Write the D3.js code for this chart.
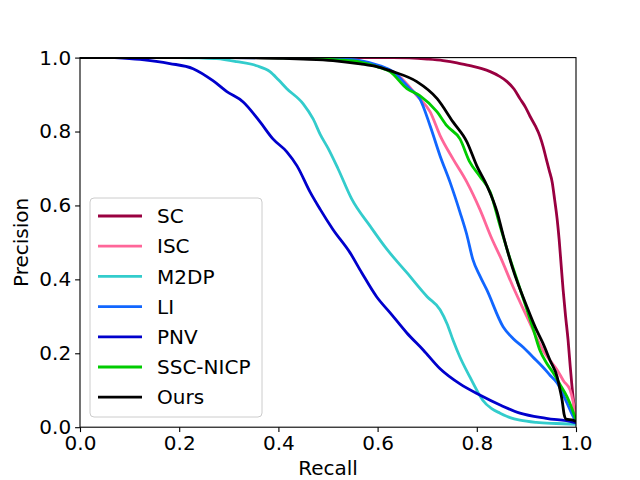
<!DOCTYPE html>
<html>
<head>
<meta charset="utf-8">
<script src="https://cdn.jsdelivr.net/npm/d3@7"></script>
<style>
  body { margin: 0; background: #fff; }
  text { font-family: "DejaVu Sans", sans-serif; }
</style>
</head>
<body>
<div id="chart"></div>
<script>
// series names and colours (legend order)
const names = ["SC", "ISC", "M2DP", "LI", "PNV", "SSC-NICP", "Ours"];
const colors = ["#990040", "#ff6699", "#33cccc", "#1166ff", "#0000cc", "#00cc00", "#000000"];

// recall / precision
const sc_recall = [0, 0.3, 0.5, 0.631, 0.70, 0.732, 0.76, 0.786, 0.81, 0.827, 0.845, 0.861, 0.875, 0.887, 0.898, 0.907, 0.918, 0.927, 0.934, 0.94, 0.946, 0.952, 0.957, 0.962, 0.966, 0.970, 0.974, 0.979, 0.984, 0.988, 0.992, 0.996, 1.0];
const sc_precision = [1, 1, 1, 1.0, 0.996, 0.992, 0.986, 0.978, 0.970, 0.962, 0.95, 0.935, 0.915, 0.889, 0.866, 0.842, 0.815, 0.788, 0.758, 0.726, 0.695, 0.663, 0.615, 0.563, 0.508, 0.44, 0.372, 0.30, 0.236, 0.17, 0.109, 0.06, 0.02];

const isc_recall = [0, 0.3, 0.45, 0.52, 0.565, 0.605, 0.631, 0.655, 0.679, 0.706, 0.726, 0.752, 0.78, 0.806, 0.831, 0.847, 0.873, 0.901, 0.918, 0.933, 0.948, 0.962, 0.975, 0.988, 0.994, 1.0];
const isc_precision = [1, 1, 0.998, 0.994, 0.988, 0.975, 0.962, 0.935, 0.897, 0.853, 0.789, 0.726, 0.663, 0.590, 0.508, 0.462, 0.380, 0.299, 0.25, 0.209, 0.18, 0.155, 0.125, 0.101, 0.07, 0.02];

const m2dp_recall = [0.2, 0.24, 0.276, 0.316, 0.356, 0.383, 0.40, 0.417, 0.45, 0.47, 0.484, 0.50, 0.52, 0.548, 0.585, 0.619, 0.659, 0.70, 0.726, 0.74, 0.752, 0.766, 0.786, 0.80, 0.812, 0.83, 0.847, 0.867, 0.887, 0.92, 0.96, 1.0];
const m2dp_precision = [1, 0.999, 0.997, 0.989, 0.978, 0.962, 0.94, 0.916, 0.875, 0.834, 0.793, 0.755, 0.70, 0.617, 0.544, 0.481, 0.418, 0.353, 0.318, 0.28, 0.236, 0.19, 0.136, 0.10, 0.073, 0.05, 0.038, 0.026, 0.019, 0.013, 0.01, 0.008];

const li_recall = [0, 0.3, 0.45, 0.52, 0.565, 0.605, 0.631, 0.665, 0.685, 0.706, 0.726, 0.746, 0.766, 0.78, 0.792, 0.806, 0.82, 0.853, 0.873, 0.893, 0.913, 0.933, 0.948, 0.962, 0.982, 0.992, 0.998, 1.0];
const li_precision = [1, 1, 0.999, 0.997, 0.992, 0.978, 0.962, 0.916, 0.889, 0.815, 0.734, 0.663, 0.582, 0.52, 0.454, 0.41, 0.372, 0.272, 0.24, 0.217, 0.19, 0.163, 0.14, 0.12, 0.065, 0.035, 0.019, 0.01];

const pnv_recall = [0.07, 0.121, 0.181, 0.228, 0.268, 0.296, 0.329, 0.363, 0.389, 0.417, 0.4375, 0.464, 0.484, 0.51, 0.544, 0.568, 0.598, 0.625, 0.659, 0.692, 0.726, 0.766, 0.806, 0.847, 0.887, 0.94, 0.994, 1.0];
const pnv_precision = [1, 0.995, 0.984, 0.970, 0.9375, 0.908, 0.880, 0.826, 0.780, 0.745, 0.707, 0.636, 0.590, 0.535, 0.473, 0.418, 0.353, 0.310, 0.255, 0.209, 0.158, 0.117, 0.087, 0.060, 0.038, 0.024, 0.014, 0.012];

const ssc_recall = [0, 0.3, 0.45, 0.52, 0.565, 0.60, 0.625, 0.659, 0.685, 0.72, 0.74, 0.766, 0.786, 0.806, 0.827, 0.847, 0.861, 0.881, 0.901, 0.915, 0.927, 0.94, 0.954, 0.968, 0.982, 0.992, 0.998, 1.0];
const ssc_precision = [1, 1, 0.998, 0.994, 0.988, 0.975, 0.962, 0.916, 0.897, 0.853, 0.815, 0.78, 0.717, 0.679, 0.636, 0.544, 0.481, 0.399, 0.318, 0.26, 0.209, 0.175, 0.147, 0.115, 0.082, 0.05, 0.027, 0.02];

const ours_recall = [0, 0.2, 0.3, 0.4, 0.45, 0.51, 0.565, 0.60, 0.631, 0.679, 0.72, 0.752, 0.78, 0.80, 0.821, 0.841, 0.853, 0.873, 0.901, 0.918, 0.933, 0.948, 0.962, 0.968, 0.972, 0.976, 0.98, 0.994, 1.0];
const ours_precision = [1, 1, 1, 0.998, 0.996, 0.992, 0.983, 0.975, 0.962, 0.935, 0.889, 0.826, 0.772, 0.707, 0.652, 0.582, 0.52, 0.427, 0.326, 0.27, 0.228, 0.18, 0.136, 0.10, 0.073, 0.035, 0.022, 0.019, 0.015];

const ticks = [0, 0.2, 0.4, 0.6, 0.8, 1.0];

// pair up the arrays
const recalls = [sc_recall, isc_recall, m2dp_recall, li_recall, pnv_recall, ssc_recall, ours_recall];
const precisions = [sc_precision, isc_precision, m2dp_precision, li_precision, pnv_precision, ssc_precision, ours_precision];
const series = names.map((n, i) => ({
    name: n,
    color: colors[i],
    points: recalls[i].map((r, j) => [r, precisions[i][j]])
}));

// figure layout (matplotlib defaults for 640x480)
const width = 640, height = 480;
const margin = { left: 80, right: 64, top: 57.6, bottom: 52.8 };
const plot_w = width - margin.left - margin.right;
const plot_h = height - margin.top - margin.bottom;
const font_size = 20;

const svg = d3.select("#chart")
    .append("svg")
    .attr("width", width)
    .attr("height", height);

const x = d3.scaleLinear().domain([0, 1]).range([0, plot_w]);
const y = d3.scaleLinear().domain([0, 1]).range([plot_h, 0]);

const g = svg.append("g")
    .attr("transform", `translate(${margin.left},${margin.top})`);

// clip lines to the axes box
g.append("clipPath").attr("id", "clip")
    .append("rect").attr("width", plot_w).attr("height", plot_h);

const line = d3.line()
    .x(d => x(d[0]))
    .y(d => y(d[1]))
    .curve(d3.curveMonotoneX);

g.append("g")
    .attr("clip-path", "url(#clip)")
    .selectAll("path")
    .data(series)
    .join("path")
    .attr("d", d => line(d.points))
    .attr("fill", "none")
    .attr("stroke", d => d.color)
    .attr("stroke-width", 2.8)
    .attr("stroke-linejoin", "round");

// axes
const x_axis = d3.axisBottom(x).tickValues(ticks).tickFormat(d3.format(".1f")).tickSize(4.9).tickPadding(4);
const y_axis = d3.axisLeft(y).tickValues(ticks).tickFormat(d3.format(".1f")).tickSize(4.9).tickPadding(4);

g.append("g").attr("transform", `translate(0,${plot_h})`).call(x_axis);
g.append("g").call(y_axis);
g.selectAll(".domain").remove();
g.selectAll(".tick line").attr("stroke", "#000").attr("stroke-width", 1.1);
g.selectAll(".tick text").attr("fill", "#000").style("font-size", font_size + "px").style("font-family", "DejaVu Sans");

// spines
g.append("rect")
    .attr("width", plot_w)
    .attr("height", plot_h)
    .attr("fill", "none")
    .attr("stroke", "#000")
    .attr("stroke-width", 1.1);

// axis labels
svg.append("text")
    .attr("x", margin.left + plot_w / 2)
    .attr("y", 475)
    .attr("text-anchor", "middle")
    .style("font-size", font_size + "px")
    .text("Recall");

svg.append("text")
    .attr("transform", `translate(28,${margin.top + plot_h / 2}) rotate(-90)`)
    .attr("text-anchor", "middle")
    .style("font-size", font_size + "px")
    .text("Precision");

// legend
const legend = svg.append("g").attr("transform", "translate(90,198)");
legend.append("rect")
    .attr("width", 172)
    .attr("height", 219)
    .attr("rx", 4)
    .attr("fill", "#fff")
    .attr("fill-opacity", 0.8)
    .attr("stroke", "#cccccc")
    .attr("stroke-width", 1);

const item = legend.selectAll(".item")
    .data(series)
    .join("g")
    .attr("class", "item")
    .attr("transform", (d, i) => `translate(0,${18 + i * 30.2})`);

item.append("line")
    .attr("x1", 8).attr("x2", 52)
    .attr("stroke", d => d.color)
    .attr("stroke-width", 2.8);

item.append("text")
    .attr("x", 67)
    .attr("dy", "0.36em")
    .style("font-size", font_size + "px")
    .text(d => d.name);
</script>
</body>
</html>
